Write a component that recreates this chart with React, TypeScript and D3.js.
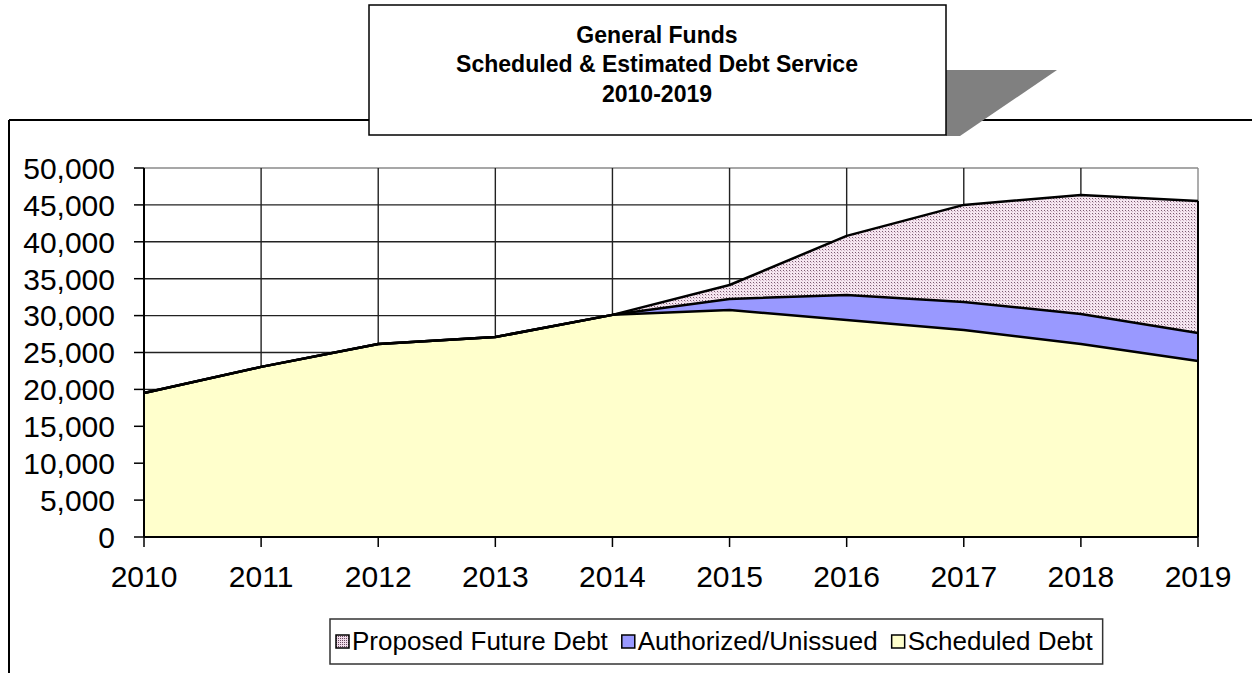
import * as d3 from 'd3';

const years = [2010, 2011, 2012, 2013, 2014, 2015, 2016, 2017, 2018, 2019];
const scheduledDebt = [19500, 23050, 26150, 27100, 30100, 30750, 29400, 28050, 26150, 23850];
const authorizedUnissued = [0, 0, 0, 0, 0, 1500, 3400, 3800, 4070, 3800];
const proposedFutureDebt = [0, 0, 0, 0, 0, 1900, 8000, 13150, 16120, 17880];
const yTicks = [0, 5000, 10000, 15000, 20000, 25000, 30000, 35000, 40000, 45000, 50000];
const seriesNames = ['Scheduled Debt', 'Authorized/Unissued', 'Proposed Future Debt'];
const titleLines = ['General Funds', 'Scheduled & Estimated Debt Service', '2010-2019'];

const W = 1252;
const H = 673;
const PLOT = { left: 144, right: 1198, top: 168, bottom: 537 };
const FONT = "'Liberation Sans', Arial, sans-serif";
const LEGEND_FS = 26;

type Row = { year: number; s: number; a: number; p: number };

// rough Arial advance widths, used only to lay the legend out
const CHAR_W: Record<string, number> = {
  P: 0.667, r: 0.333, o: 0.556, p: 0.556, s: 0.5, e: 0.556, d: 0.556, ' ': 0.278,
  F: 0.611, u: 0.556, t: 0.278, D: 0.722, b: 0.556, A: 0.667, h: 0.556, i: 0.222,
  z: 0.5, '/': 0.278, U: 0.722, n: 0.556, S: 0.667, c: 0.5, l: 0.222,
};
const textW = (s: string, fs: number) =>
  s.split('').reduce((acc, ch) => acc + (CHAR_W[ch] ?? 0.556), 0) * fs;

export default function App() {
  const rows: Row[] = years.map((y, i) => ({
    year: y,
    s: scheduledDebt[i],
    a: authorizedUnissued[i],
    p: proposedFutureDebt[i],
  }));

  const x = d3.scaleLinear().domain([2010, 2019]).range([PLOT.left, PLOT.right]);
  const y = d3.scaleLinear().domain([0, 50000]).range([PLOT.bottom, PLOT.top]);

  const stack = d3.stack<Row>().keys(['s', 'a', 'p'])(rows);
  const area = d3
    .area<d3.SeriesPoint<Row>>()
    .x((d) => x(d.data.year))
    .y0((d) => y(d[0]))
    .y1((d) => y(d[1]));
  const line = d3
    .line<d3.SeriesPoint<Row>>()
    .x((d) => x(d.data.year))
    .y((d) => y(d[1]));

  const fills = ['#ffffcc', '#9999ff', 'url(#dots)'];
  const fmt = d3.format(',');

  // legend order is reversed (proposed first), laid out left to right
  const legendFills = ['url(#dotsSmall)', '#9999ff', '#ffffcc'];
  const legendNames = [seriesNames[2], seriesNames[1], seriesNames[0]];
  const LG = { x: 330, y: 619, h: 45, sq: 13 };
  let cursor = LG.x + 6;
  const legendItems = legendNames.map((name, i) => {
    const item = { name, fill: legendFills[i], x: cursor, tx: cursor + LG.sq + 3 };
    cursor = item.tx + textW(name, LEGEND_FS) + 14;
    return item;
  });
  const legendW = cursor - 14 + 10 - LG.x;

  return (
    <svg width={W} height={H} style={{ position: 'absolute', left: 0, top: 0 }}>
      <defs>
        <pattern id="dots" width={3} height={3} patternUnits="userSpaceOnUse">
          <rect width={3} height={3} fill="#f5e6f0" />
          <rect width={1} height={1} fill="#7a5a70" />
          <rect x={1} y={1} width={1} height={1} fill="#d0b2c6" />
        </pattern>
        <pattern id="dotsSmall" width={2} height={2} patternUnits="userSpaceOnUse">
          <rect width={2} height={2} fill="#f0dcea" />
          <rect width={1} height={1} fill="#6a4a60" />
        </pattern>
      </defs>
      <rect width={W} height={H} fill="#fff" />

      {/* outer chart frame */}
      <line x1={9} y1={120} x2={W} y2={120} stroke="#000" strokeWidth={2} />
      <line x1={9} y1={120} x2={9} y2={H} stroke="#000" strokeWidth={2} />

      {/* gridlines */}
      {yTicks.map((t) => (
        <line
          key={'g' + t}
          x1={PLOT.left}
          x2={PLOT.right}
          y1={y(t)}
          y2={y(t)}
          stroke={t === 50000 ? '#8a8a8a' : '#222'}
          strokeWidth={1.4}
        />
      ))}
      {years.map((yr) => (
        <line
          key={'v' + yr}
          x1={x(yr)}
          x2={x(yr)}
          y1={PLOT.top}
          y2={PLOT.bottom}
          stroke={yr === 2019 ? '#8a8a8a' : '#222'}
          strokeWidth={1.4}
        />
      ))}

      {/* stacked areas */}
      {stack.map((s, i) => (
        <path key={'a' + i} d={area(s) || ''} fill={fills[i]} stroke="none" />
      ))}
      {stack.map((s, i) => (
        <path key={'l' + i} d={line(s) || ''} fill="none" stroke="#000" strokeWidth={2.5} strokeLinejoin="round" />
      ))}
      <line
        x1={x(2019)}
        x2={x(2019)}
        y1={y(0)}
        y2={y(scheduledDebt[9] + authorizedUnissued[9] + proposedFutureDebt[9])}
        stroke="#000"
        strokeWidth={2}
      />

      {/* axes */}
      <line x1={PLOT.left} x2={PLOT.left} y1={PLOT.top} y2={PLOT.bottom} stroke="#000" strokeWidth={2} />
      <line x1={PLOT.left} x2={PLOT.right} y1={PLOT.bottom} y2={PLOT.bottom} stroke="#000" strokeWidth={2} />
      {yTicks.map((t) => (
        <g key={'yt' + t}>
          <line x1={PLOT.left - 10} x2={PLOT.left} y1={y(t)} y2={y(t)} stroke="#000" strokeWidth={1.5} />
          <text
            x={115}
            y={y(t)}
            dy="0.36em"
            textAnchor="end"
            fontFamily={FONT}
            fontSize={30}
            fill="#000"
          >
            {fmt(t)}
          </text>
        </g>
      ))}
      {years.map((yr) => (
        <g key={'xt' + yr}>
          <line x1={x(yr)} x2={x(yr)} y1={PLOT.bottom} y2={PLOT.bottom + 10} stroke="#000" strokeWidth={1.5} />
          <text x={x(yr)} y={587} textAnchor="middle" fontFamily={FONT} fontSize={30} fill="#000">
            {yr}
          </text>
        </g>
      ))}

      {/* legend */}
      <rect x={LG.x} y={LG.y} width={legendW} height={LG.h} fill="#fff" stroke="#333" strokeWidth={1.5} />
      {legendItems.map((it) => (
        <g key={it.name}>
          <rect x={it.x} y={635} width={LG.sq} height={LG.sq} fill={it.fill} stroke="#000" strokeWidth={1.5} />
          <text x={it.tx} y={650} fontFamily={FONT} fontSize={LEGEND_FS} fill="#000">
            {it.name}
          </text>
        </g>
      ))}

      {/* title box with shadow */}
      <polygon points="946,70 1057,70 960,136 946,136" fill="#808080" />
      <rect x={369} y={5} width={577} height={130} fill="#fff" stroke="#000" strokeWidth={1.5} />
      <g transform="translate(657,0) scale(0.96,1)">
        {titleLines.map((t, i) => (
          <text
            key={t}
            x={0}
            y={43 + i * 29.5}
            textAnchor="middle"
            fontFamily={FONT}
            fontWeight="bold"
            fontSize={24}
            fill="#000"
          >
            {t}
          </text>
        ))}
      </g>
    </svg>
  );
}
